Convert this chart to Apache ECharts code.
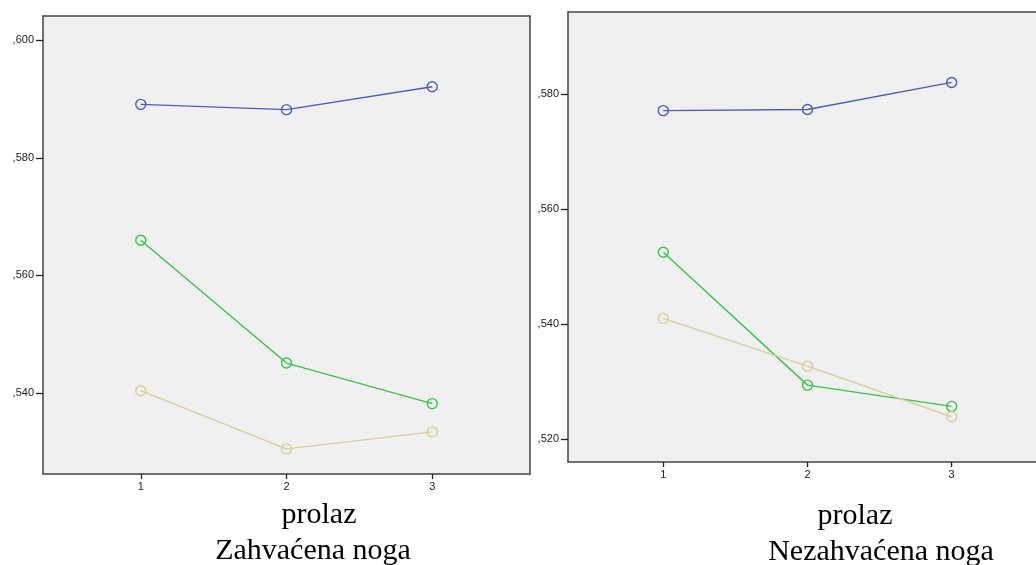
<!DOCTYPE html>
<html>
<head>
<meta charset="utf-8">
<script src="https://cdn.jsdelivr.net/npm/echarts@6/dist/echarts.min.js"></script>
<style>html,body{margin:0;padding:0;background:#fff;}#c{width:1036px;height:565px;}</style>
</head>
<body>
<div id="c"></div>
<script>
const categories = [1, 2, 3];
const leftBlue  = [0.5891, 0.5882, 0.5921];
const leftGreen = [0.5660, 0.5451, 0.5382];
const leftTan   = [0.5404, 0.5305, 0.5334];
const rightBlue  = [0.5771, 0.5773, 0.5820];
const rightGreen = [0.5525, 0.5294, 0.5257];
const rightTan   = [0.5410, 0.5327, 0.5239];
const leftTicks  = [0.54, 0.56, 0.58, 0.60];
const rightTicks = [0.52, 0.54, 0.56, 0.58];
const xTitle = 'prolaz';
const leftTitle = 'Zahvaćena noga';
const rightTitle = 'Nezahvaćena noga';

const colors = { blue: '#4a5dbd', green: '#3cc24c', tan: '#d6d19c' };
const borderColor = '#444';
const fmt = v => ',' + v.toFixed(3).split('.')[1];
const tx = v => String(Math.round(v));
const labelFont = 'Arial, "Liberation Sans", sans-serif';

function xAxis(gi, min, max) {
  return {
    type: 'value', gridIndex: gi, min: min, max: max, position: 'bottom',
    splitLine: { show: false },
    axisLine: { show: true, lineStyle: { color: borderColor, width: 1.5 } },
    axisTick: { show: true, customValues: categories, length: 5, lineStyle: { color: '#222', width: 1.3 } },
    axisLabel: { show: true, customValues: categories, formatter: tx, color: '#222', fontSize: 11, fontFamily: labelFont, margin: 7 }
  };
}
function xTop(gi, min, max) {
  return {
    type: 'value', gridIndex: gi, min: min, max: max, position: 'top',
    splitLine: { show: false },
    axisLine: { show: true, lineStyle: { color: borderColor, width: 1.5 } },
    axisTick: { show: false }, axisLabel: { show: false }
  };
}
function yAxis(gi, min, max, ticks) {
  return {
    type: 'value', gridIndex: gi, min: min, max: max, position: 'left',
    splitLine: { show: false },
    axisLine: { show: true, lineStyle: { color: borderColor, width: 1.5 } },
    axisTick: { show: true, customValues: ticks, length: 7, lineStyle: { color: '#222', width: 1.3 } },
    axisLabel: { show: true, customValues: ticks, formatter: fmt, color: '#222', fontSize: 11, fontFamily: labelFont, margin: 9 }
  };
}
function yRight(gi, min, max) {
  return {
    type: 'value', gridIndex: gi, min: min, max: max, position: 'right',
    splitLine: { show: false },
    axisLine: { show: true, lineStyle: { color: borderColor, width: 1.5 } },
    axisTick: { show: false }, axisLabel: { show: false }
  };
}
function line(ax, vals, color) {
  return {
    type: 'line', xAxisIndex: ax, yAxisIndex: ax,
    data: categories.map((c, i) => [c, vals[i]]),
    symbol: 'circle', symbolSize: 10,
    itemStyle: { color: 'rgba(0,0,0,0)', borderColor: color, borderWidth: 1.4 },
    lineStyle: { color: color, width: 1.4 },
    emphasis: { disabled: true },
    animation: false
  };
}

const L = [0.329, 3.671, 0.52623, 0.60413];
const R = [0.339, 3.585, 0.51604, 0.59424];

const chart = echarts.init(document.getElementById('c'), null, { renderer: 'canvas' });
chart.setOption({
  animation: false,
  grid: [
    { left: 43, top: 16, width: 487, height: 458, show: true, backgroundColor: '#f0f0f0', borderWidth: 0 },
    { left: 568, top: 12, right: 0, height: 450, show: true, backgroundColor: '#f0f0f0', borderWidth: 0 }
  ],
  xAxis: [ xAxis(0, L[0], L[1]), xAxis(1, R[0], R[1]), xTop(0, L[0], L[1]), xTop(1, R[0], R[1]) ],
  yAxis: [ yAxis(0, L[2], L[3], leftTicks), yAxis(1, R[2], R[3], rightTicks), yRight(0, L[2], L[3]) ],
  series: [
    line(0, leftBlue, colors.blue), line(0, leftGreen, colors.green), line(0, leftTan, colors.tan),
    line(1, rightBlue, colors.blue), line(1, rightGreen, colors.green), line(1, rightTan, colors.tan)
  ],
  graphic: [
    { type: 'text', x: 319, y: 515, style: { text: xTitle, align: 'center', verticalAlign: 'middle', font: '30px "Liberation Serif", serif', fill: '#000' } },
    { type: 'text', x: 313, y: 551, style: { text: leftTitle, align: 'center', verticalAlign: 'middle', font: '30px "Liberation Serif", serif', fill: '#000' } },
    { type: 'text', x: 855, y: 516, style: { text: xTitle, align: 'center', verticalAlign: 'middle', font: '30px "Liberation Serif", serif', fill: '#000' } },
    { type: 'text', x: 881, y: 552, style: { text: rightTitle, align: 'center', verticalAlign: 'middle', font: '30px "Liberation Serif", serif', fill: '#000' } }
  ]
});
</script>
</body>
</html>
